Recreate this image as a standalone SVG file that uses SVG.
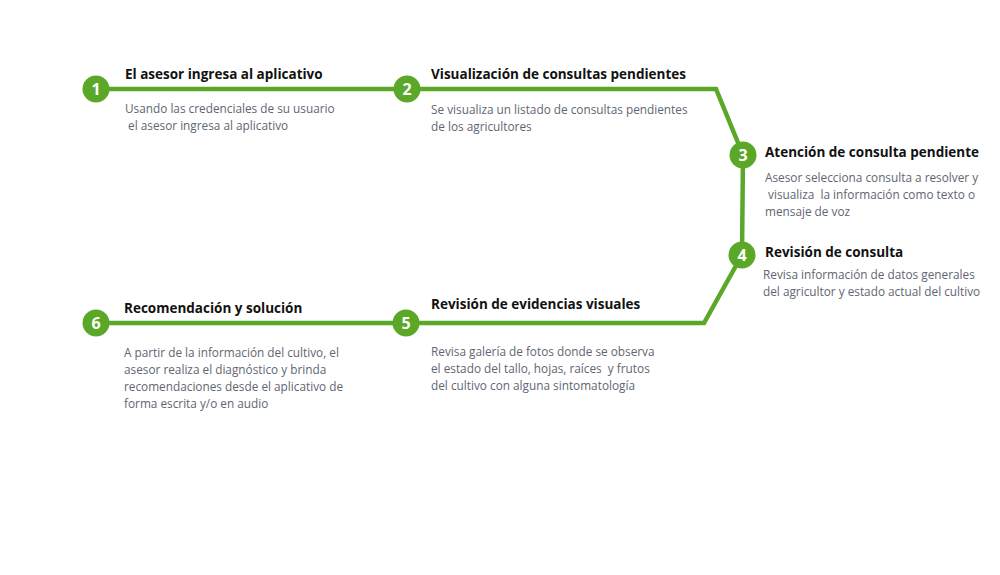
<svg xmlns="http://www.w3.org/2000/svg" width="1000" height="575" viewBox="0 0 1000 575">
<style>
.t{font-family:"Open Sans",sans-serif;font-weight:700;font-size:13.5px;fill:#111}
.b{font-family:"Open Sans",sans-serif;font-size:11.8px;fill:#5f6672}
.c{fill:#5ba829}
.n{font-family:"Open Sans",sans-serif;font-weight:700;font-size:16px;fill:#fff;text-anchor:middle}
.l{fill:none;stroke:#5ba829;stroke-width:4.5;stroke-linejoin:miter}
</style>
<rect width="1000" height="575" fill="#fff"/>
<g id="connectors">
<polyline class="l" points="96,89 716,89 743,155 742,255 704,323 96,323"/>
</g>
<g id="n1"><circle class="c" cx="96" cy="89" r="13.5"/><text class="n" x="96" y="95">1</text>
<text class="t" x="125" y="79">El asesor ingresa al aplicativo</text>
<text class="b" x="125" y="113">Usando las credenciales de su usuario</text>
<text class="b" x="125" y="130" xml:space="preserve"> el asesor ingresa al aplicativo</text></g>
<g id="n2"><circle class="c" cx="407" cy="89" r="13.5"/><text class="n" x="407" y="95">2</text>
<text class="t" x="431" y="79">Visualización de consultas pendientes</text>
<text class="b" x="431" y="114">Se visualiza un listado de consultas pendientes</text>
<text class="b" x="431" y="131">de los agricultores</text></g>
<g id="n3"><circle class="c" cx="743" cy="155" r="13.5"/><text class="n" x="743" y="161">3</text>
<text class="t" x="765" y="157">Atención de consulta pendiente</text>
<text class="b" x="765" y="182">Asesor selecciona consulta a resolver y</text>
<text class="b" x="765" y="199" xml:space="preserve"> visualiza  la información como texto o</text>
<text class="b" x="765" y="216">mensaje de voz</text></g>
<g id="n4"><circle class="c" cx="742" cy="255" r="13.5"/><text class="n" x="742" y="261">4</text>
<text class="t" x="765" y="257">Revisión de consulta</text>
<text class="b" x="763" y="279">Revisa información de datos generales</text>
<text class="b" x="763" y="296">del agricultor y estado actual del cultivo</text></g>
<g id="n5"><circle class="c" cx="406" cy="323" r="13.5"/><text class="n" x="406" y="329">5</text>
<text class="t" x="431" y="309">Revisión de evidencias visuales</text>
<text class="b" x="431" y="356">Revisa galería de fotos donde se observa</text>
<text class="b" x="431" y="373" xml:space="preserve">el estado del tallo, hojas, raíces  y frutos</text>
<text class="b" x="431" y="390">del cultivo con alguna sintomatología</text></g>
<g id="n6"><circle class="c" cx="96" cy="323" r="13.5"/><text class="n" x="96" y="329">6</text>
<text class="t" x="124" y="313">Recomendación y solución</text>
<text class="b" x="124" y="357">A partir de la información del cultivo, el</text>
<text class="b" x="124" y="374">asesor realiza el diagnóstico y brinda</text>
<text class="b" x="124" y="391">recomendaciones desde el aplicativo de</text>
<text class="b" x="124" y="408">forma escrita y/o en audio</text></g>
</svg>
